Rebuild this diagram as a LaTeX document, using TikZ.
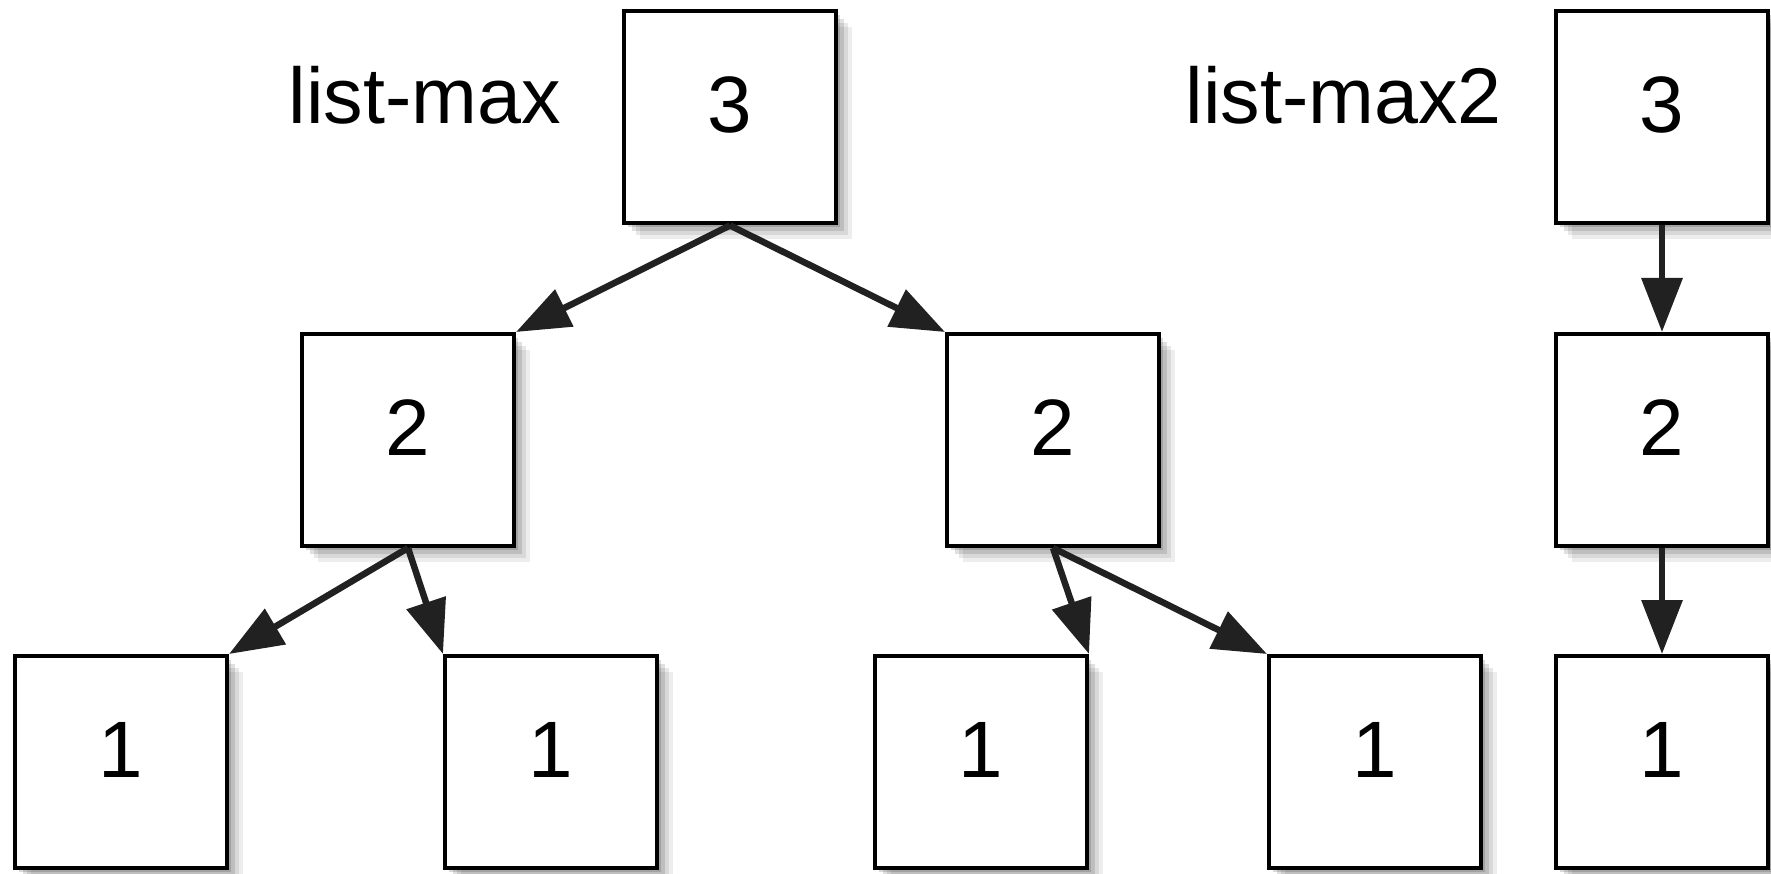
\documentclass[tikz,border=0pt]{standalone}
\usepackage{fontspec}
\setmainfont{Liberation Sans}
\usetikzlibrary{arrows.meta}
\begin{document}
\begin{tikzpicture}[x=1pt,y=-1pt,
  box/.style={draw=black, line width=4pt, fill=white, minimum width=212pt, minimum height=212pt,
    inner sep=0pt, text height=60pt, text depth=30pt, font=\fontsize{80}{96}\selectfont,
    preaction={fill=black, fill opacity=0.07, draw=none, transform canvas={xshift=16pt,yshift=-16pt}},
    preaction={fill=black, fill opacity=0.09, draw=none, transform canvas={xshift=12pt,yshift=-12pt}},
    preaction={fill=black, fill opacity=0.12, draw=none, transform canvas={xshift=8pt,yshift=-8pt}},
    preaction={fill=black, fill opacity=0.15, draw=none, transform canvas={xshift=4pt,yshift=-4pt}}},
  lbl/.style={anchor=base east, inner sep=0pt, font=\fontsize{79}{95}\selectfont},
  arr/.style={draw=black!87, line width=6.5pt, -{Triangle[length=54pt,width=40pt]}}
]
\useasboundingbox (0,0) rectangle (1771,874);
\node[box] (t3) at (730,117.5) {3};
\node[box] (l2) at (408,440) {2};
\node[box] (m2) at (1053,440) {2};
\node[box] (b1) at (121,762) {1};
\node[box] (b2) at (551,762) {1};
\node[box] (b3) at (981,762) {1};
\node[box] (b4) at (1375,762) {1};
\node[box] (r3) at (1662,117.5) {3};
\node[box] (r2) at (1662,440) {2};
\node[box] (r1) at (1662,762) {1};
\node[lbl] (lab1) at (561,124) {list-max};
\node[lbl] (lab2) at (1502,124) {list-max2};
\draw[arr] (t3.south) -- (l2.north east);
\draw[arr] (t3.south) -- (m2.north west);
\draw[arr] (l2.south) -- (b1.north east);
\draw[arr] (l2.south) -- (b2.north west);
\draw[arr] (m2.south) -- (b3.north east);
\draw[arr] (m2.south) -- (b4.north west);
\draw[arr] (r3.south) -- (r2.north);
\draw[arr] (r2.south) -- (r1.north);
\end{tikzpicture}
\end{document}
